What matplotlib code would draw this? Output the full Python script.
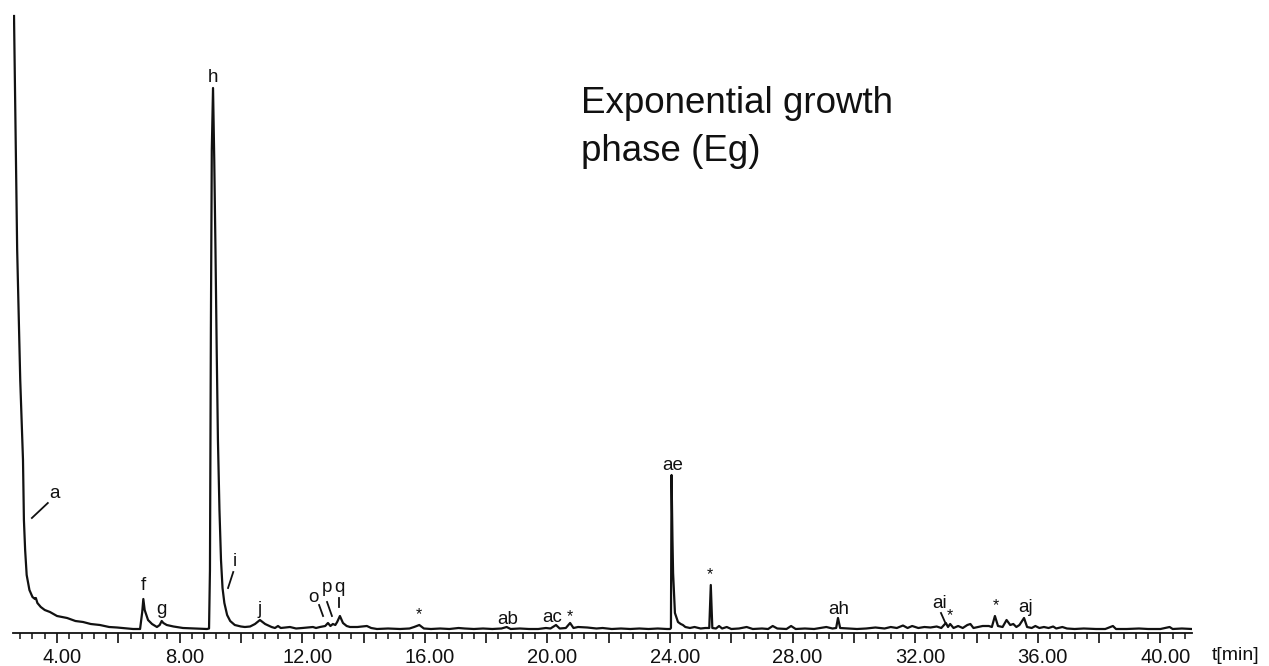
import matplotlib
matplotlib.use("Agg")
import matplotlib.pyplot as plt
from matplotlib.ticker import MultipleLocator, FuncFormatter
from matplotlib.transforms import ScaledTranslation

plt.rcParams["font.family"] = ["Liberation Sans", "DejaVu Sans"]

# chromatogram trace (t in min, detector signal in a.u.)
time_min = [
    2.597, 2.70, 2.80, 2.89, 2.92, 2.96, 3.01, 3.10, 3.20, 3.28, 3.31, 3.36,
    3.47, 3.60, 3.77, 4.00, 4.33, 4.60, 4.85, 5.10, 5.40, 5.70, 5.96, 6.48,
    6.71, 6.78, 6.816, 6.86, 6.97, 7.10, 7.26, 7.35, 7.416, 7.47, 7.58, 7.80,
    8.11, 8.50, 8.894, 8.96, 8.99, 9.02, 9.05, 9.09, 9.13, 9.17, 9.21, 9.25,
    9.30, 9.35, 9.40, 9.46, 9.55, 9.65, 9.80, 10.00, 10.13, 10.30, 10.46,
    10.62, 10.79, 11.00, 11.11, 11.21, 11.30, 11.60, 11.80, 12.00, 12.35,
    12.45, 12.58, 12.75, 12.84, 12.92, 13.00, 13.08, 13.14, 13.23, 13.33,
    13.45, 13.56, 13.80, 14.11, 14.25, 14.44, 14.80, 15.19, 15.50, 15.65,
    15.82, 15.97, 16.20, 16.50, 16.80, 17.10, 17.30, 17.60, 17.90, 18.20,
    18.50, 18.67, 18.80, 19.10, 19.40, 19.70, 19.95, 20.10, 20.28, 20.40,
    20.60, 20.74, 20.85, 21.00, 21.30, 21.60, 21.80, 22.10, 22.40, 22.70,
    23.00, 23.30, 23.60, 23.90, 24.00, 24.03, 24.05, 24.08, 24.10, 24.16,
    24.26, 24.35, 24.42, 24.50, 24.65, 24.80, 25.00, 25.15, 25.28, 25.33,
    25.38, 25.50, 25.60, 25.70, 25.85, 26.00, 26.25, 26.50, 26.70, 27.00,
    27.20, 27.35, 27.50, 27.80, 27.95, 28.10, 28.40, 28.70, 28.90, 29.10,
    29.30, 29.42, 29.48, 29.55, 29.80, 30.10, 30.40, 30.70, 31.00, 31.20,
    31.40, 31.60, 31.75, 31.90, 32.10, 32.30, 32.50, 32.70, 32.85, 33.00,
    33.07, 33.14, 33.25, 33.40, 33.55, 33.70, 33.80, 33.90, 34.05, 34.20,
    34.40, 34.50, 34.60, 34.70, 34.85, 34.98, 35.10, 35.20, 35.30, 35.40,
    35.55, 35.65, 35.80, 35.92, 36.05, 36.20, 36.35, 36.50, 36.60, 36.80,
    36.95, 37.20, 37.50, 37.90, 38.20, 38.45, 38.55, 38.90, 39.30, 39.60,
    40.00, 40.30, 40.40, 40.70, 41.02,
]
signal = [
    614, 380, 250, 170, 110, 80, 55, 40, 33, 31, 32, 27,
    23, 20, 18, 14, 12, 9, 8, 6, 5, 3, 2.5, 1,
    1, 18, 31, 20, 10, 6, 3, 5, 9, 7, 5, 3.5,
    2, 1.5, 1, 1.5, 60, 300, 480, 542, 470, 380, 280, 190,
    120, 70, 42, 27, 15, 9, 5, 3.5, 3, 3.5, 6,
    10, 6, 3, 2, 4, 2, 3, 1.5, 2, 3,
    2, 3, 4, 7, 4, 6, 5, 8, 14, 7,
    4, 3, 3, 4, 2, 1, 1.5, 1, 1.5, 3,
    5, 1.5, 1, 1.5, 1, 2, 1.5, 1, 1.5, 1,
    1.5, 3, 1, 1.5, 1, 1, 2, 1.5, 5, 1.5,
    2, 7, 2, 3, 2.5, 1.5, 2, 1, 1.5, 1,
    1.5, 1, 1.5, 1, 1, 2, 155, 90, 57, 17,
    8, 6, 5, 3, 2, 3, 1.5, 2, 2, 45,
    2, 1.5, 4, 1.5, 3, 1, 1.5, 3, 1, 1.5,
    1, 4, 1.5, 1, 4, 1, 1.5, 1, 2, 3,
    1.5, 2, 12, 2, 1.5, 1, 1.5, 2.5, 1.5, 3,
    2, 4.5, 2, 4, 2, 3, 2.5, 3.5, 2, 7,
    3, 6, 2, 4, 2, 5, 6, 2, 3, 4,
    4, 3, 14, 4, 3, 10, 5, 6, 3, 5,
    12, 3, 2, 4, 2, 3, 2, 3.5, 1.5, 3,
    1.5, 1, 1.5, 1, 1, 4, 1, 1, 1.5, 1,
    1, 3, 1, 1.5, 1,
]

# peak labels
peak_names = ["a", "f", "g", "h", "i", "j", "o", "p", "q", "ab", "ac",
              "ae", "ah", "ai", "aj"]
peak_label_t = [3.93, 6.81, 7.42, 9.10, 9.81, 10.62, 12.35, 12.81, 13.20,
                18.71, 20.15, 24.10, 29.50, 32.81, 35.61]
peak_label_s = [137, 45, 20, 553, 68, 21, 33, 42, 43, 11, 13, 165, 20, 27, 22]

# leader lines (t0, s0, t1, s1)
leader_lines = [
    (3.18, 112, 3.70, 127),
    (9.58, 42, 9.75, 58),
    (12.55, 25, 12.68, 14),
    (12.81, 28, 12.97, 14),
    (13.20, 32, 13.20, 23),
    (32.84, 17, 32.97, 8),
]

# asterisk-marked peaks
star_t = [15.81, 20.74, 25.31, 33.14, 34.64]
star_s = [8, 6, 48, 7, 17]

ink = "#111111"

fig = plt.figure(figsize=(12.69, 6.66), dpi=100)
ax = fig.add_axes([13 / 1269, 33 / 666, 1179 / 1269, 633 / 666])

ax.plot(time_min, signal, color=ink, lw=1.6, solid_joinstyle="round")

for name, t, s in zip(peak_names, peak_label_t, peak_label_s):
    ax.text(t, s, name, ha="center", va="center", fontsize=13.5, color=ink)
for t0, s0, t1, s1 in leader_lines:
    ax.plot([t0, t1], [s0, s1], color=ink, lw=1.3)
for t, s in zip(star_t, star_s):
    ax.text(t, s, "*", ha="center", va="bottom", fontsize=11.5, color=ink)

ax.set_xlim(2.564, 41.03)
ax.set_ylim(-3, 630)
ax.set_yticks([])
for side in ["top", "left", "right"]:
    ax.spines[side].set_visible(False)
ax.spines["bottom"].set_linewidth(1.3)
ax.spines["bottom"].set_color(ink)

ax.xaxis.set_major_locator(MultipleLocator(2))
ax.xaxis.set_minor_locator(MultipleLocator(0.4))
ax.xaxis.set_major_formatter(
    FuncFormatter(lambda v, p: f"{v:.2f}" if round(v) % 4 == 0 else ""))
ax.tick_params(axis="x", which="major", length=7.5, width=1.2, direction="out",
               labelsize=14.5, pad=3.5, color=ink, labelcolor=ink)
ax.tick_params(axis="x", which="minor", length=4, width=1.1, direction="out",
               color=ink)

offset = ScaledTranslation(5 / 100, 0, fig.dpi_scale_trans)
for lab in ax.get_xticklabels():
    lab.set_transform(lab.get_transform() + offset)

fig.text(1212 / 1269, (666 - 655) / 666, "t[min]", fontsize=14,
         ha="left", va="center", color=ink)
fig.text(581 / 1269, (666 - 113) / 666, "Exponential growth", fontsize=26.5,
         ha="left", va="baseline", color=ink)
fig.text(581 / 1269, (666 - 161) / 666, "phase (Eg)", fontsize=26.5,
         ha="left", va="baseline", color=ink)

fig.savefig("out.png", dpi=100)
